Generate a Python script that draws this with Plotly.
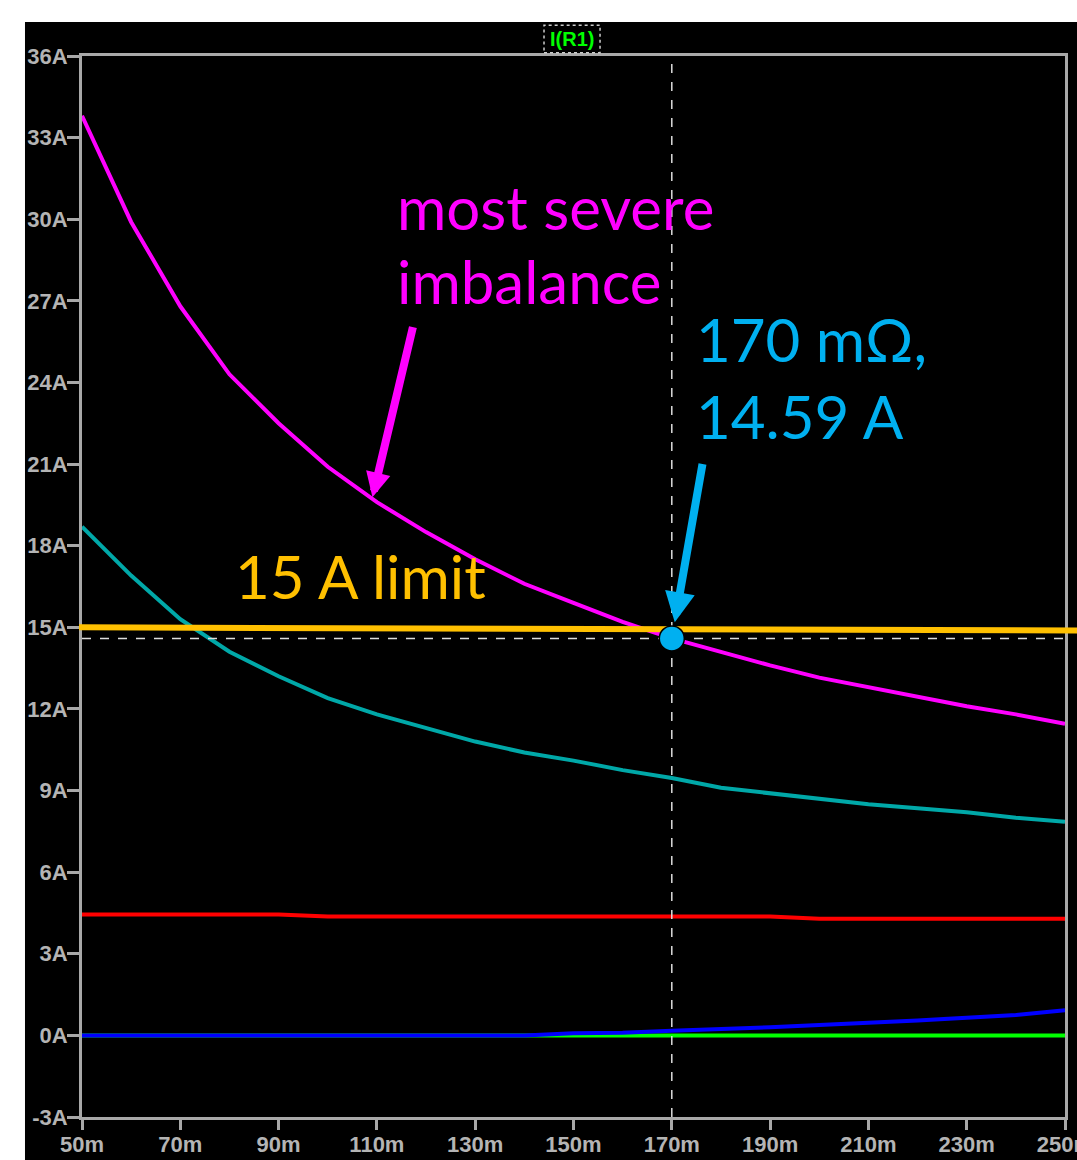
import plotly.graph_objects as go

# ---- data (resistance in milliohms, current in A) ----
r_mohm = [50, 60, 70, 80, 90, 100, 110, 120, 130, 140, 150, 160, 170, 180, 190, 200, 210, 220, 230, 240, 250]
i_magenta = [33.8, 29.9, 26.8, 24.3, 22.5, 20.9, 19.6, 18.5, 17.5, 16.6, 15.9, 15.2, 14.59, 14.1, 13.6, 13.15, 12.8, 12.45, 12.1, 11.8, 11.45]
i_teal = [18.7, 16.9, 15.3, 14.1, 13.2, 12.4, 11.8, 11.3, 10.8, 10.4, 10.1, 9.75, 9.46, 9.1, 8.9, 8.7, 8.5, 8.35, 8.2, 8.0, 7.85]
i_red = [4.44, 4.44, 4.44, 4.44, 4.44, 4.37, 4.37, 4.37, 4.37, 4.37, 4.37, 4.37, 4.37, 4.37, 4.37, 4.29, 4.29, 4.29, 4.29, 4.29, 4.29]
i_blue = [0, 0, 0, 0, 0, 0, 0, 0, 0, 0, 0.08, 0.1, 0.17, 0.22, 0.3, 0.38, 0.45, 0.55, 0.65, 0.75, 0.92]
i_green = [0] * 21

x_ticks = [50, 70, 90, 110, 130, 150, 170, 190, 210, 230, 250]
x_ticktext = [f"{v}m" for v in x_ticks]
y_ticks = [-3, 0, 3, 6, 9, 12, 15, 18, 21, 24, 27, 30, 33, 36]
y_ticktext = [f"{v}A" for v in y_ticks]

cursor_x = 170
cursor_y = 14.59
limit_level = [15.0, 14.88]

GRID = "#A8A8A8"
fig = go.Figure()

for ys, col in [(i_green, "#00FF00"), (i_blue, "#0000FF"), (i_red, "#FF0000"),
                (i_teal, "#00A8A8"), (i_magenta, "#FF00FF")]:
    fig.add_trace(go.Scatter(x=r_mohm, y=ys, mode="lines",
                             line=dict(color=col, width=4), showlegend=False,
                             hoverinfo="skip"))

shapes = [
    # black panel
    dict(type="rect", xref="paper", yref="paper", x0=-0.058, x1=1.02, y0=-0.05, y1=1.032,
         fillcolor="black", line=dict(width=0), layer="below"),
    # cursor crosshair
    dict(type="line", xref="x", yref="paper", x0=cursor_x, x1=cursor_x, y0=0, y1=1,
         line=dict(color="#DDDDDD", width=1.5, dash="dash")),
    dict(type="line", xref="paper", yref="y", x0=0, x1=1, y0=cursor_y, y1=cursor_y,
         line=dict(color="#DDDDDD", width=1.5, dash="dash")),
    # 15 A limit line
    dict(type="line", xref="paper", yref="y", x0=-0.003, x1=1.02, y0=limit_level[0], y1=limit_level[1],
         line=dict(color="#FFC000", width=6)),
    # cursor marker (anchored at the data point)
    dict(type="circle", xref="x", yref="y", xsizemode="pixel", ysizemode="pixel",
         xanchor=cursor_x, yanchor=cursor_y, x0=-12.5, x1=12.5, y0=-12.5, y1=12.5,
         fillcolor="#00B0F0", line=dict(color="black", width=1.5)),
    # I(R1) label box
    dict(type="rect", xref="paper", yref="paper", x0=0.470, x1=0.527, y0=1.003, y1=1.029,
         line=dict(color="#CCCCCC", width=1.5, dash="dot")),
]

FONT = "Lato"
FS = 60
annotations = [
    dict(xref="paper", yref="paper", x=0.4985, y=1.016, text="I(R1)", showarrow=False,
         font=dict(family="Liberation Sans", size=20, color="#00FF00", weight="bold"),
         xanchor="center", yanchor="middle"),
    dict(x=113.6, y=30.45, text="most severe", showarrow=False, xanchor="left", yanchor="middle",
         font=dict(family=FONT, size=FS, color="#FF00FF")),
    dict(x=113.6, y=27.74, text="imbalance", showarrow=False, xanchor="left", yanchor="middle",
         font=dict(family=FONT, size=FS, color="#FF00FF")),
    dict(x=174.6, y=25.58, text="170 mΩ,", showarrow=False, xanchor="left", yanchor="middle",
         font=dict(family=FONT, size=FS, color="#00B0F0")),
    dict(x=174.6, y=22.75, text="14.59 A", showarrow=False, xanchor="left", yanchor="middle",
         font=dict(family=FONT, size=FS, color="#00B0F0")),
    dict(x=80.8, y=16.88, text="15 A limit", showarrow=False, xanchor="left", yanchor="middle",
         font=dict(family=FONT, size=FS, color="#FFC000")),
    # arrows
    dict(x=109.1, y=19.78, ax=117.4, ay=26.09, axref="x", ayref="y", xref="x", yref="y",
         text="", showarrow=True, arrowhead=2, arrowsize=0.62, arrowwidth=8, arrowcolor="#FF00FF"),
    dict(x=170.6, y=15.19, ax=176.3, ay=21.06, axref="x", ayref="y", xref="x", yref="y",
         text="", showarrow=True, arrowhead=2, arrowsize=0.75, arrowwidth=8, arrowcolor="#00B0F0"),
]

tickfont = dict(family="Liberation Sans", size=22, color="#B4B4B4", weight="bold")
fig.update_layout(
    width=1077, height=1160, autosize=False,
    margin=dict(l=82, r=12, t=56, b=43, pad=0),
    paper_bgcolor="white", plot_bgcolor="black",
    shapes=shapes, annotations=annotations,
    xaxis=dict(range=[50, 250], tickvals=x_ticks, ticktext=x_ticktext, showgrid=False, zeroline=False,
               showline=True, mirror=True, linecolor=GRID, linewidth=3, ticks="outside", ticklen=10,
               tickwidth=3, tickcolor=GRID, tickfont=tickfont, automargin=False,
               ticklabeloverflow="allow", ticklabelstandoff=-4),
    yaxis=dict(range=[-3, 36], tickvals=y_ticks, ticktext=y_ticktext, showgrid=False, zeroline=False,
               showline=True, mirror=True, linecolor=GRID, linewidth=3, ticks="outside", ticklen=12,
               tickwidth=3, tickcolor=GRID, tickfont=tickfont, automargin=False,
               ticklabeloverflow="allow", ticklabelstandoff=-5),
)

fig.write_html("out.html", config={"displayModeBar": False},
               post_script="document.body.style.margin='0';document.body.style.overflow='hidden';")
